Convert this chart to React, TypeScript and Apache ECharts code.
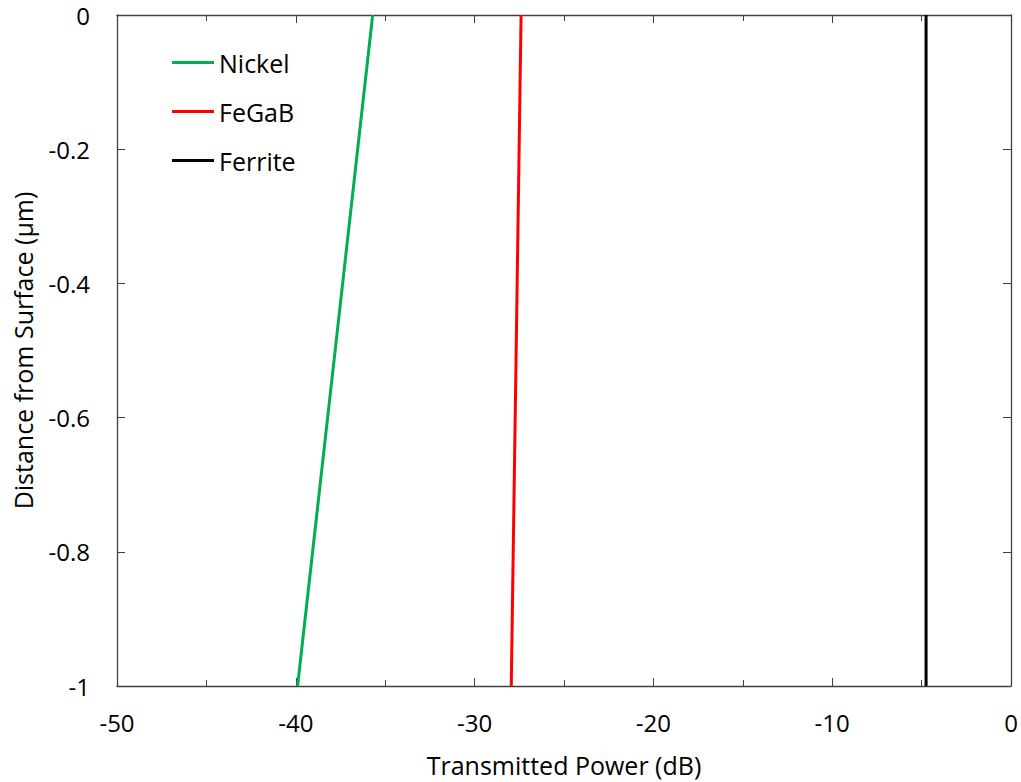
import React, { useEffect, useRef } from "react";
import * as echarts from "echarts";

const seriesNames = ["Nickel", "FeGaB", "Ferrite"];
const seriesColors = ["#00b050", "#ff0000", "#000000"];
const nickel: [number, number][] = [[-39.9, -1], [-35.7, 0]];
const fegab: [number, number][] = [[-27.95, -1], [-27.4, 0]];
const ferrite: [number, number][] = [[-4.75, -1], [-4.75, 0]];
const seriesData = [nickel, fegab, ferrite];

const FONT = "'Open Sans', 'Noto Sans', sans-serif";

export default function App() {
  const ref = useRef<HTMLDivElement>(null);
  useEffect(() => {
    if (!ref.current) return;
    const chart = echarts.init(ref.current, null, { renderer: "svg" });
    const axisLine = { show: true, onZero: false, lineStyle: { color: "#404040", width: 1.3 } };
    const labelStyle = { color: "#000", fontSize: 24, fontFamily: FONT };
    const tick = { show: true, inside: true, length: 8, lineStyle: { color: "#404040" } };
    chart.setOption({
      animation: false,
      backgroundColor: "#fff",
      grid: { left: 117, right: 10, top: 15, bottom: 95, containLabel: false },
      legend: {
        orient: "vertical",
        left: 167,
        top: 45,
        itemWidth: 42,
        itemHeight: 3,
        itemGap: 24,
        icon: "rect",
        textStyle: { fontSize: 25, lineHeight: 24, fontFamily: FONT, color: "#000" },
        data: seriesNames,
      },
      xAxis: [
        {
          type: "value",
          min: -50,
          max: 0,
          interval: 10,
          name: "Transmitted Power (dB)",
          nameLocation: "middle",
          nameGap: 66,
          nameTextStyle: { ...labelStyle, fontSize: 25 },
          axisLine,
          axisTick: tick,
          minorTick: { show: true, splitNumber: 2, length: 6, lineStyle: { color: "#404040" } },
          axisLabel: { ...labelStyle, margin: 24 },
          splitLine: { show: false },
          minorSplitLine: { show: false },
        },
        {
          type: "value",
          position: "top",
          min: -50,
          max: 0,
          interval: 10,
          axisLine,
          axisTick: tick,
          minorTick: { show: true, splitNumber: 2, length: 6, lineStyle: { color: "#404040" } },
          axisLabel: { show: false },
          splitLine: { show: false },
        },
      ],
      yAxis: [
        {
          type: "value",
          min: -1,
          max: 0,
          interval: 0.2,
          name: "Distance from Surface (\u00b5m)",
          nameLocation: "middle",
          nameGap: 82,
          nameTextStyle: { ...labelStyle, fontSize: 25 },
          axisLine,
          axisTick: tick,
          axisLabel: { ...labelStyle, margin: 27, formatter: (v: number) => (v === 0 ? "0" : v === -1 ? "-1" : String(Number(v.toFixed(1)))) },
          splitLine: { show: false },
        },
        {
          type: "value",
          position: "right",
          min: -1,
          max: 0,
          interval: 0.2,
          axisLine,
          axisTick: tick,
          axisLabel: { show: false },
          splitLine: { show: false },
        },
      ],
      series: seriesNames.map((n, i) => ({
        name: n,
        type: "line",
        xAxisIndex: 0,
        yAxisIndex: 0,
        data: seriesData[i],
        showSymbol: false,
        symbol: "none",
        lineStyle: { color: seriesColors[i], width: 3 },
        itemStyle: { color: seriesColors[i] },
      })),
    });
    return () => chart.dispose();
  }, []);
  return (
    <div
      ref={ref}
      style={{ position: "fixed", left: 0, top: 0, width: 1021, height: 782, background: "#fff" }}
    />
  );
}
